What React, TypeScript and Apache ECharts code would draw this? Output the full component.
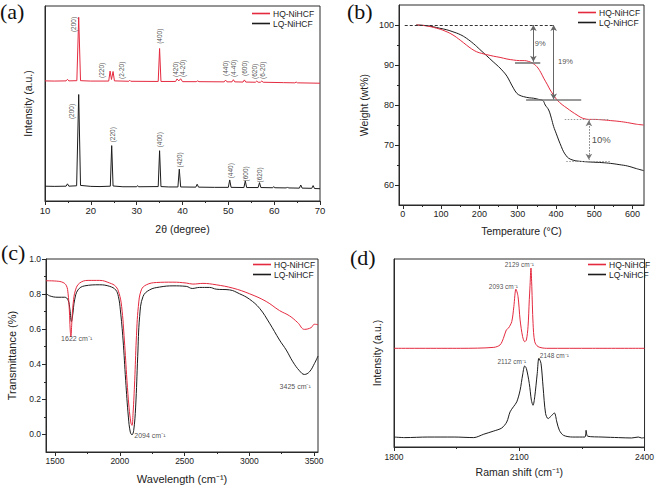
import React, { useEffect, useRef } from "react";
import * as echarts from "echarts";

const RED = "#e42a3f";
const BLACK = "#1c1c1c";
const AXIS = "#2a2a2a";
const FONT = "'Liberation Sans', Arial, sans-serif";
const SERIF = "'Liberation Serif', 'Times New Roman', serif";
const SERIES_NAMES = ["HQ-NiHCF", "LQ-NiHCF"];

// ---------- (a) XRD ----------
const xrdTicksX = [10, 20, 30, 40, 50, 60, 70];
const xrdLQ: number[][] = [
  [10, 7.6], [12, 7.5], [14.6, 7.6], [14.9, 8.8], [15.2, 7.6], [16.9, 7.8], [17.35, 54.6], [17.75, 8.0],
  [20, 7.5], [22, 7.4], [24.25, 7.6], [24.55, 28.4], [24.85, 7.7], [27, 7.3], [30.0, 7.3], [30.2, 7.9],
  [30.4, 7.3], [34.7, 7.4], [35.0, 25.8], [35.3, 7.4], [37, 7.2], [39.0, 7.2], [39.3, 16.3], [39.6, 7.2],
  [42.9, 7.1], [43.2, 8.6], [43.5, 7.1], [47, 7.0], [50.0, 7.0], [50.3, 10.8], [50.6, 7.0], [53.4, 6.9],
  [53.7, 10.3], [54.0, 6.9], [56.5, 6.9], [56.8, 9.4], [57.1, 6.9], [59.7, 6.8], [59.9, 7.4], [60.1, 6.8],
  [62.7, 6.7], [62.9, 7.2], [63.1, 6.7], [65.5, 6.6], [65.8, 8.2], [66.1, 6.6], [68.2, 6.5], [68.5, 7.9],
  [68.8, 6.4], [70, 6.3],
];
const xrdHQ: number[][] = [
  [10, 61.6], [12, 61.5], [14.6, 61.6], [14.9, 62.4], [15.2, 61.6], [16.95, 61.7], [17.35, 94.2], [17.75, 61.7],
  [20, 61.5], [23.9, 61.5], [24.2, 66.6], [24.5, 62.3], [24.85, 66.4], [25.15, 61.6], [28.3, 61.4], [28.5, 61.9],
  [28.7, 61.4], [34.7, 61.3], [35.0, 78.2], [35.3, 61.3], [38.5, 61.3], [38.8, 62.6], [39.2, 61.6], [39.6, 62.7],
  [40.0, 61.2], [43.0, 61.2], [43.3, 61.6], [43.6, 61.2], [49.1, 61.1], [49.4, 62.0], [49.7, 61.1], [50.8, 61.1],
  [51.1, 62.2], [51.4, 61.1], [53.2, 61.0], [53.5, 62.1], [53.8, 61.0], [55.9, 60.9], [56.2, 61.5], [56.5, 60.9],
  [57.0, 60.9], [57.3, 61.5], [57.6, 60.9], [62, 60.7], [64.5, 60.6], [64.8, 61.0], [65.1, 60.6], [70, 60.4],
];
const xrdHQLabels: [number, number, string][] = [
  [16.3, 90.5, "(200)"], [22.4, 67, "(220)"], [26.7, 67, "(2-20)"], [34.9, 84.5, "(400)"],
  [38.5, 67.5, "(420)"], [40.0, 68, "(4-20)"], [49.3, 68, "(440)"], [51.1, 68, "(4-40)"],
  [53.6, 68, "(600)"], [55.8, 66.5, "(620)"], [57.5, 67, "(6-20)"],
];
const xrdLQLabels: [number, number, string][] = [
  [15.8, 45.9, "(200)"], [24.8, 34, "(220)"], [34.9, 31.4, "(400)"], [39.3, 21.1, "(420)"],
  [50.4, 15.5, "(440)"], [53.8, 13.9, "(600)"], [56.8, 13.4, "(620)"],
];

// ---------- (b) TGA ----------
const tgaTicksX = [0, 100, 200, 300, 400, 500, 600];
const tgaMinorX = [50, 150, 250, 350, 450, 550];
const tgaTicksY = [60, 70, 80, 90, 100];
const tgaMinorY = [65, 75, 85, 95];
const tgaHQ: number[][] = [
  [35, 100], [60, 99.8], [88, 99.2], [110, 98.5], [131, 97.5], [150, 96.2], [166, 95], [180, 94],
  [193, 93.3], [206, 92.9], [219, 92.6], [237, 92.2], [254, 91.9], [272, 91.5], [289, 91.25], [305, 91.1],
  [318, 91.1], [328, 90.9], [338, 90.5], [350, 89.6], [360, 88.2], [368, 86.7], [377, 85.2], [385, 83.75],
  [395, 82.3], [403, 81.25], [416, 80.1], [429, 79.2], [442, 78.3], [455, 77.5], [465, 76.9], [473, 76.6],
  [485, 76.4], [499, 76.4], [520, 76.3], [543, 76.1], [565, 75.9], [587, 75.6], [610, 75.2], [629, 75.0],
];
const tgaLQ: number[][] = [
  [35, 100], [65, 99.8], [96, 99.2], [115, 98.8], [131, 98.3], [150, 97.6], [166, 96.7], [185, 95.3],
  [201, 93.9], [218, 92.4], [236, 90.8], [250, 89.6], [263, 88.3], [272, 87.2], [280, 85.8], [289, 84.2],
  [298, 82.9], [306, 82.4], [315, 82.1], [330, 81.8], [341, 81.7], [355, 81.4], [366, 81.1], [372, 80.0],
  [381, 78.75], [388, 76.7], [394, 74.6], [401, 72.8], [407, 71.25], [414, 69.6], [420, 68.3], [427, 67.3],
  [433, 66.7], [445, 66.2], [455, 66.0], [480, 65.8], [499, 65.7], [520, 65.6], [543, 65.4], [565, 65.1],
  [587, 64.75], [610, 64.1], [629, 63.6],
];
// reference lines: [x1, y1, x2, y2]
const tgaDashed: number[][] = [[5, 100, 394, 100]];
const tgaPlateaus: number[][] = [[293, 90.6, 359, 90.6], [322, 81.2, 466, 81.2]];
const tgaDotted: number[][] = [[423, 76.4, 539, 76.4], [427, 66.0, 541, 66.0]];
const tgaArrowsSolid: number[][] = [[341, 100, 341, 90.8], [394, 100, 394, 81.4]];
const tgaArrowsDotted: number[][] = [[486, 76.2, 486, 66.3]];
const tgaLabels: [number, number, string][] = [[359, 95.4, "9%"], [425, 90.8, "19%"]];
const tgaBigLabels: [number, number, string][] = [[518, 71.4, "10%"]];

// ---------- (c) FTIR ----------
const ftirTicksX = [1500, 2000, 2500, 3000, 3500];
const ftirMinorX = [1750, 2250, 2750, 3250];
const ftirTicksY = [0, 0.2, 0.4, 0.6, 0.8, 1.0];
const ftirMinorY = [0.1, 0.3, 0.5, 0.7, 0.9];
const ftirHQ: number[][] = [
  [1430, 0.876], [1510, 0.874], [1562, 0.866], [1588, 0.847], [1600, 0.805], [1610, 0.71], [1617, 0.595],
  [1622, 0.557], [1629, 0.634], [1640, 0.748], [1658, 0.824], [1690, 0.863], [1755, 0.878], [1845, 0.878],
  [1922, 0.863], [1968, 0.844], [1994, 0.805], [2014, 0.729], [2035, 0.538], [2055, 0.309], [2071, 0.156],
  [2086, 0.065], [2094, 0.052], [2102, 0.118], [2115, 0.309], [2127, 0.538], [2143, 0.729], [2166, 0.824],
  [2205, 0.853], [2282, 0.866], [2410, 0.868], [2513, 0.863], [2564, 0.857], [2642, 0.861], [2744, 0.853],
  [2873, 0.834], [3001, 0.802], [3130, 0.758], [3233, 0.706], [3310, 0.676], [3374, 0.637], [3425, 0.599],
  [3477, 0.609], [3502, 0.628], [3530, 0.626],
];
const ftirLQ: number[][] = [
  [1430, 0.805], [1458, 0.79], [1523, 0.782], [1574, 0.782], [1600, 0.767], [1615, 0.71], [1626, 0.643],
  [1636, 0.681], [1651, 0.767], [1677, 0.824], [1729, 0.847], [1845, 0.853], [1922, 0.844], [1968, 0.824],
  [1989, 0.786], [2004, 0.71], [2025, 0.538], [2045, 0.309], [2066, 0.099], [2081, 0.013], [2094, -0.002],
  [2107, 0.023], [2122, 0.156], [2138, 0.443], [2153, 0.672], [2179, 0.786], [2230, 0.824], [2307, 0.84],
  [2410, 0.847], [2513, 0.844], [2559, 0.832], [2616, 0.838], [2693, 0.838], [2744, 0.828], [2847, 0.824],
  [2924, 0.802], [3001, 0.771], [3079, 0.719], [3156, 0.634], [3233, 0.538], [3285, 0.481], [3336, 0.414],
  [3387, 0.363], [3425, 0.342], [3464, 0.357], [3503, 0.405], [3530, 0.447],
];
const ftirLabels: [number, number, string][] = [
  [1667, 0.548, "1622 cm⁻¹"], [2232, -0.006, "2094 cm⁻¹"], [3354, 0.275, "3425 cm⁻¹"],
];

// ---------- (d) Raman ----------
const ramanTicksX = [1800, 2100, 2400];
const ramanHQ: number[][] = [
  [1800, 52.5], [1960, 52.5], [2039, 53.0], [2054, 54.3], [2062, 57.8], [2069, 62.3], [2074, 63.2],
  [2082, 66.7], [2087, 74.7], [2092, 84.0], [2097, 80.1], [2102, 67.6], [2108, 58.7], [2113, 56.0],
  [2117, 56.9], [2121, 64.1], [2124, 78.3], [2125.5, 84.5], [2128, 95.2], [2130, 85.4], [2133, 65.8],
  [2137, 56.0], [2145, 53.4], [2165, 52.5], [2275, 52.5], [2400, 52.5],
];
const ramanLQ: number[][] = [
  [1800, 5.3], [1826, 5.0], [1881, 5.3], [1944, 5.3], [1991, 5.0], [2015, 6.8], [2039, 8.5], [2058, 10.1],
  [2070, 13.3], [2078, 18.7], [2086, 21.4], [2094, 24.0], [2102, 30.2], [2108, 38.3], [2113, 43.1],
  [2117, 41.8], [2124, 33.8], [2129, 24.9], [2133, 22.2], [2137, 26.7], [2143, 39.1], [2147, 47.2],
  [2152, 44.5], [2157, 32.0], [2163, 17.8], [2169, 15.1], [2176, 16.4], [2184, 18.1], [2190, 13.3],
  [2196, 8.9], [2206, 6.2], [2228, 5.3], [2257, 5.3], [2260, 8.9], [2264, 5.7], [2298, 5.3], [2338, 5.0],
  [2369, 4.8], [2385, 5.3], [2393, 4.8], [2400, 5.0],
];
const ramanLabels: [number, number, string][] = [
  [2100, 97.3, "2129 cm⁻¹"], [2062, 85.4, "2093 cm⁻¹"], [2082, 45.4, "2112 cm⁻¹"], [2184, 48.9, "2148 cm⁻¹"],
];

const plain = (v: number) => String(v);

function lineSeries(name: string, data: number[][], color: string, xi: number, yi: number, smooth: number | boolean, extra: any = {}) {
  return {
    type: "line",
    name,
    data,
    xAxisIndex: xi,
    yAxisIndex: yi,
    symbol: "none",
    smooth,
    lineStyle: { color, width: 1 },
    itemStyle: { color },
    silent: true,
    ...extra,
  };
}

function labelSeries(id: string, xi: number, yi: number, items: [number, number, string][], fontSize: number, rotate = 0) {
  return {
    type: "scatter",
    id,
    xAxisIndex: xi,
    yAxisIndex: yi,
    data: items.map(([x, y, t]) => ({ value: [x, y], t })),
    symbolSize: 1,
    itemStyle: { color: "rgba(255,255,255,0)" },
    silent: true,
    z: 5,
    label: {
      show: true,
      position: "inside",
      rotate,
      fontSize,
      fontFamily: FONT,
      color: "#1a1a1a",
      textBorderWidth: 0,
      formatter: (p: any) => p.data.t,
    },
  };
}

function segs(list: number[][], style: any, arrows: boolean) {
  return list.map(([x1, y1, x2, y2]) => [
    { coord: [x1, y1], symbol: arrows ? "arrow" : "none", lineStyle: style },
    { coord: [x2, y2], symbol: arrows ? "arrow" : "none" },
  ]);
}

function mainAxis(gridIndex: number, min: number, max: number, o: any = {}) {
  return {
    type: "value",
    gridIndex,
    min,
    max,
    axisLine: { show: true, onZero: false, lineStyle: { color: AXIS, width: 1 } },
    axisTick: { show: true, inside: false, length: 4, lineStyle: { color: AXIS } },
    axisLabel: { show: true, color: "#222", fontFamily: FONT, fontSize: 9, margin: 4, formatter: plain },
    splitLine: { show: false },
    nameLocation: "middle",
    nameTextStyle: { color: "#222", fontFamily: FONT, fontSize: 10.5 },
    ...o,
  };
}

function minorAxis(gridIndex: number, min: number, max: number, values: number[], position: string) {
  return {
    type: "value",
    gridIndex,
    min,
    max,
    position,
    offset: 0,
    axisLine: { show: false, onZero: false },
    axisTick: { show: true, inside: false, length: 2, customValues: values, lineStyle: { color: AXIS } },
    axisLabel: { show: false },
    splitLine: { show: false },
  };
}

const legendBase = {
  orient: "vertical",
  data: SERIES_NAMES,
  icon: "rect",
  itemWidth: 18,
  itemHeight: 1.6,
  itemGap: 1,
  selectedMode: false,
  textStyle: { fontFamily: FONT, fontSize: 8.5, color: "#222", padding: [0, 0, 0, -2] },
  padding: 0,
};

export default function App() {
  const ref = useRef<HTMLDivElement>(null);
  useEffect(() => {
    if (!ref.current) return;
    const chart = echarts.init(ref.current, null, { renderer: "svg" });
    const gridBox = { show: true, borderColor: AXIS, borderWidth: 1, backgroundColor: "transparent", containLabel: false };
    const option: any = {
      animation: false,
      backgroundColor: "#fff",
      grid: [
        { ...gridBox, left: 45, top: 6, width: 275, height: 195 },
        { ...gridBox, left: 399, top: 5, width: 245, height: 200 },
        { ...gridBox, left: 46, top: 259, width: 272, height: 193 },
        { ...gridBox, left: 394, top: 259, width: 253, height: 188 },
      ],
      xAxis: [
        mainAxis(0, 10, 70, {
          interval: 10,
          minorTick: { show: true, splitNumber: 2, length: 2, lineStyle: { color: AXIS } },
          axisLabel: { show: true, color: "#222", fontFamily: FONT, fontSize: 9.5, margin: 4, formatter: plain, customValues: xrdTicksX },
          name: "2θ (degree)",
          nameGap: 22,
        }),
        mainAxis(1, -10, 630, {
          axisTick: { show: true, inside: false, length: 4, customValues: tgaTicksX, lineStyle: { color: AXIS } },
          axisLabel: { show: true, color: "#222", fontFamily: FONT, fontSize: 9, margin: 4, formatter: plain, customValues: tgaTicksX },
          name: "Temperature (°C)",
          nameGap: 20,
        }),
        minorAxis(1, -10, 630, tgaMinorX, "bottom"),
        mainAxis(2, 1430, 3530, {
          axisTick: { show: true, inside: false, length: 4, customValues: ftirTicksX, lineStyle: { color: AXIS } },
          axisLabel: { show: true, color: "#222", fontFamily: FONT, fontSize: 8.5, margin: 4, formatter: plain, customValues: ftirTicksX },
          name: "Wavelength (cm⁻¹)",
          nameGap: 21,
          nameTextStyle: { color: "#222", fontFamily: FONT, fontSize: 11 },
        }),
        minorAxis(2, 1430, 3530, ftirMinorX, "bottom"),
        mainAxis(3, 1800, 2400, {
          interval: 300,
          minorTick: { show: true, splitNumber: 2, length: 2, lineStyle: { color: AXIS } },
          axisLabel: { show: true, color: "#222", fontFamily: FONT, fontSize: 8.5, margin: 5, formatter: plain, customValues: ramanTicksX },
          name: "Raman shift (cm⁻¹)",
          nameGap: 19,
        }),
      ],
      yAxis: [
        mainAxis(0, 0, 100, {
          axisTick: { show: false },
          axisLabel: { show: false },
          name: "Intensity (a.u.)",
          nameGap: 12,
        }),
        mainAxis(1, 55, 105, {
          axisTick: { show: true, inside: false, length: 4, customValues: tgaTicksY, lineStyle: { color: AXIS } },
          axisLabel: { show: true, color: "#222", fontFamily: FONT, fontSize: 9, margin: 5, formatter: plain, customValues: tgaTicksY },
          name: "Weight (wt%)",
          nameGap: 30,
        }),
        minorAxis(1, 55, 105, tgaMinorY, "left"),
        mainAxis(2, -0.1, 1.0, {
          axisTick: { show: true, inside: false, length: 4, customValues: ftirTicksY, lineStyle: { color: AXIS } },
          axisLabel: {
            show: true, color: "#222", fontFamily: FONT, fontSize: 8.5, margin: 5, customValues: ftirTicksY,
            formatter: (v: number) => v.toFixed(1),
          },
          name: "Transmittance (%)",
          nameGap: 29,
          nameTextStyle: { color: "#222", fontFamily: FONT, fontSize: 11 },
        }),
        minorAxis(2, -0.1, 1.0, ftirMinorY, "left"),
        mainAxis(3, 0, 100, {
          axisTick: { show: false },
          axisLabel: { show: false },
          name: "Intensity (a.u.)",
          nameGap: 12,
        }),
      ],
      legend: [
        { ...legendBase, left: 252, top: 9 },
        { ...legendBase, left: 578, top: 8 },
        { ...legendBase, left: 253, top: 260 },
        { ...legendBase, left: 588, top: 260 },
      ],
      series: [
        // (a)
        lineSeries("LQ-NiHCF", xrdLQ, BLACK, 0, 0, false),
        lineSeries("HQ-NiHCF", xrdHQ, RED, 0, 0, false),
        labelSeries("xrdHQL", 0, 0, xrdHQLabels, 6.5, 90),
        labelSeries("xrdLQL", 0, 0, xrdLQLabels, 6.5, 90),
        // (b)
        lineSeries("LQ-NiHCF", tgaLQ, BLACK, 1, 1, 0.4),
        lineSeries("HQ-NiHCF", tgaHQ, RED, 1, 1, 0.4, {
          markLine: {
            silent: true,
            animation: false,
            symbolSize: [5, 6],
            label: { show: false },
            emphasis: { disabled: true },
            data: [
              ...segs(tgaDashed, { color: "#333", width: 1, type: [3, 2] }, false),
              ...segs(tgaPlateaus, { color: "#777", width: 1.6, type: "solid" }, false),
              ...segs(tgaDotted, { color: "#999", width: 1, type: [1.5, 1.5] }, false),
              ...segs(tgaArrowsSolid, { color: "#666", width: 1, type: "solid" }, true),
              ...segs(tgaArrowsDotted, { color: "#777", width: 1, type: [1.5, 1.5] }, true),
            ],
          },
        }),
        labelSeries("tgaL", 1, 1, tgaLabels, 7.5),
        labelSeries("tgaBL", 1, 1, tgaBigLabels, 9.5),
        // (c)
        lineSeries("LQ-NiHCF", ftirLQ, BLACK, 3, 3, 0.4),
        lineSeries("HQ-NiHCF", ftirHQ, RED, 3, 3, 0.4),
        labelSeries("ftirL", 3, 3, ftirLabels, 7),
        // (d)
        lineSeries("LQ-NiHCF", ramanLQ, BLACK, 5, 5, 0.3),
        lineSeries("HQ-NiHCF", ramanHQ, RED, 5, 5, 0.3),
        labelSeries("ramanL", 5, 5, ramanLabels, 6.5),
      ],
      graphic: [
        { type: "text", left: 0, top: 0, style: { text: "(a)", font: `22px ${SERIF}`, fill: "#111" } },
        { type: "text", left: 347, top: 0, style: { text: "(b)", font: `22px ${SERIF}`, fill: "#111" } },
        { type: "text", left: 1, top: 241, style: { text: "(c)", font: `22px ${SERIF}`, fill: "#111" } },
        { type: "text", left: 350, top: 246, style: { text: "(d)", font: `22px ${SERIF}`, fill: "#111" } },
      ],
    };
    chart.setOption(option);
    return () => chart.dispose();
  }, []);
  return (
    <div
      ref={ref}
      style={{ position: "absolute", left: 0, top: 0, width: 657, height: 488, background: "#fff" }}
    />
  );
}
